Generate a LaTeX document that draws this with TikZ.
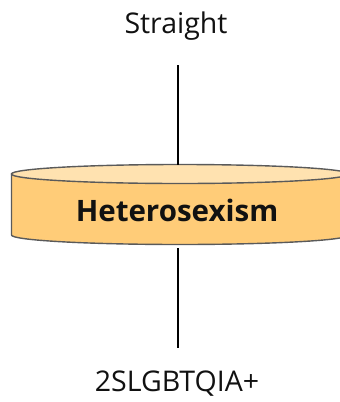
\documentclass[tikz,border=0pt]{standalone}
\usepackage{fontspec}
\setmainfont{Open Sans}
\usetikzlibrary{positioning}
\definecolor{ink}{HTML}{111111}
\definecolor{rim}{HTML}{5A5A5A}
\definecolor{capfill}{HTML}{FFE2B0}
\definecolor{bodyfill}{HTML}{FFCC78}
\tikzset{
  font=\fontsize{28.5}{32}\selectfont,
  lbl/.style={text=ink, inner sep=0pt},
  title/.style={lbl, font=\fontsize{29.5}{32}\selectfont\bfseries},
  axis/.style={draw=black, line width=2.6pt},
  rimline/.style={draw=rim, line width=1.4pt},
}
\begin{document}
\begin{tikzpicture}[x=1pt, y=-1pt]
  \useasboundingbox (0,0) rectangle (340,402);
  \clip (0,0) rectangle (340,402);

  % disc: body, then lighter top face
  \filldraw[rimline, fill=bodyfill]
    (11.5,174) -- (11.5,235)
    arc[start angle=180, end angle=0, x radius=168.5, y radius=9.5]
    -- (348.5,174) -- cycle;
  \filldraw[rimline, fill=capfill] (180,174) ellipse[x radius=168.5, y radius=9.5];

  \coordinate (disctop) at (178,164.5);
  \coordinate (discbot) at (178,248);
  \node[title] (hetero) at (177,210) {Heterosexism};

  % poles
  \node[lbl] (straight) at (176,26) {Straight};
  \node[lbl] (queer) at (177,384) {2SLGBTQIA+};
  \coordinate (topend) at (178,65);
  \coordinate (botend) at (178,348);

  \draw[axis] (topend) -- (disctop);
  \draw[axis] (discbot) -- (botend);

\end{tikzpicture}
\end{document}
